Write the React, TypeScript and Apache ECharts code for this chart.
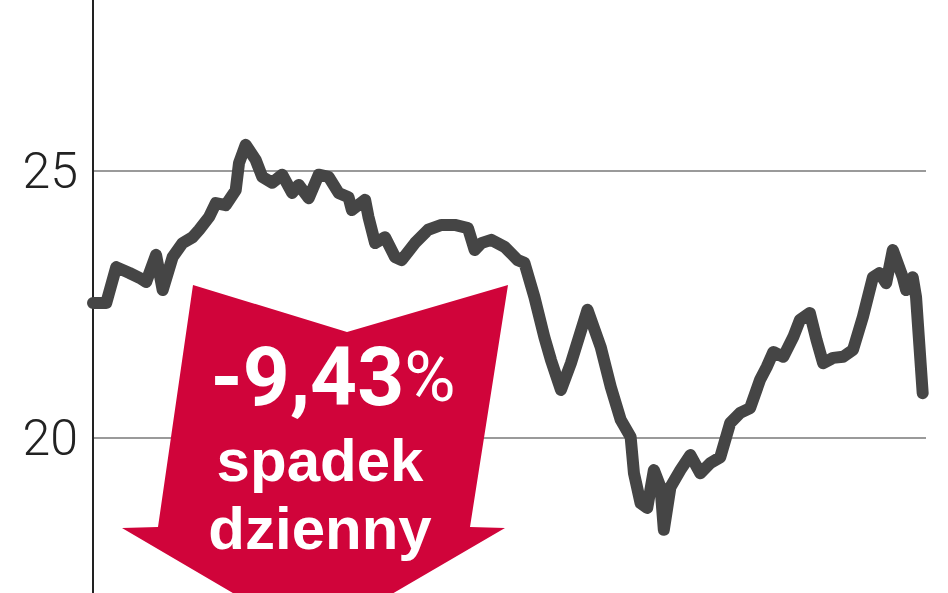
import React, { useEffect, useRef } from "react";
import * as echarts from "echarts";

// Trading-day index and closing price (PLN)
const days = [
  0, 4, 7, 11, 14, 16, 19, 21, 24, 27, 30, 32, 35, 37, 40, 43, 44, 46, 49, 51,
  54, 57, 60, 62, 65, 68, 71, 74, 77, 78, 82, 83, 85, 88, 91, 93, 97, 101, 105, 109,
  113, 115, 117, 120, 124, 128, 130, 133, 136, 138, 141, 144, 149, 153, 156, 159, 162, 163, 165, 167,
  169, 171, 172, 174, 177, 180, 183, 186, 189, 192, 195, 198, 201, 203, 205, 208, 211, 213, 216, 218,
  220, 223, 226, 229, 232, 235, 237, 239, 241, 244, 245, 247, 248, 250,
];
const prices = [
  22.53, 22.53, 23.2, 23.09, 23.0, 22.92, 23.43, 22.77, 23.39, 23.65, 23.76, 23.9, 24.14, 24.4, 24.36, 24.64, 25.15, 25.49, 25.21, 24.89,
  24.78, 24.93, 24.59, 24.74, 24.49, 24.93, 24.89, 24.59, 24.51, 24.27, 24.46, 24.14, 23.65, 23.76, 23.39, 23.33, 23.65, 23.9, 23.99, 23.99,
  23.93, 23.52, 23.65, 23.71, 23.58, 23.33, 23.28, 22.64, 21.89, 21.46, 20.9, 21.4, 22.4, 21.7, 20.96, 20.34, 20.02, 19.34, 18.78, 18.69,
  19.4, 19.08, 18.28, 19.08, 19.4, 19.68, 19.34, 19.53, 19.64, 20.28, 20.47, 20.56, 21.09, 21.33, 21.61, 21.52, 21.89, 22.21, 22.34, 21.84,
  21.4, 21.5, 21.52, 21.65, 22.27, 23.01, 23.09, 22.9, 23.52, 23.01, 22.77, 23.01, 22.64, 20.84,
];
const yTicks = [20, 25];
const badgeValue = "-9,43";
const badgeLines = ["spadek", "dzienny"];

const OFF = 96; // chart canvas is shifted up by this much inside the clipping frame

export default function App() {
  const ref = useRef<HTMLDivElement>(null);
  useEffect(() => {
    if (!ref.current) return;
    const chart = echarts.init(ref.current, null, { renderer: "svg" });
    const data = days.map((d, i) => [d, prices[i]]);
    const P = (x: number, y: number) => [x, y + OFF];
    chart.setOption({
      animation: false,
      backgroundColor: "#ffffff",
      grid: { left: 93, right: 22, top: 0, bottom: 0, containLabel: false },
      xAxis: {
        type: "value",
        min: 0,
        max: 251,
        show: false,
      },
      yAxis: {
        type: "value",
        min: 15,
        max: 30,
        interval: 5,
        axisLine: { show: true, lineStyle: { color: "#222", width: 2 } },
        axisTick: { show: false },
        axisLabel: {
          show: true,
          margin: 15,
          fontSize: 50,
          fontFamily: "Roboto",
          fontWeight: 300,
          color: "#222",
          formatter: (v: number) => (yTicks.includes(v) ? String(v) : ""),
        },
        splitLine: { show: true, lineStyle: { color: "#9a9a9a", width: 2 } },
      },
      series: [
        {
          type: "line",
          data,
          symbol: "none",
          lineStyle: { color: "#454545", width: 12, cap: "round", join: "round" },
          z: 3,
        },
      ],
      graphic: [
        {
          type: "polygon",
          z: 10,
          shape: {
            points: [
              P(193, 285), P(347, 332), P(508, 285), P(470, 527), P(505, 528),
              P(313, 640), P(122, 528), P(158, 527),
            ],
          },
          style: { fill: "#d0043a" },
        },
        {
          type: "text",
          z: 11,
          x: 333,
          y: 377 + OFF,
          style: {
            text: `{a|${badgeValue}}{b|%}`,
            align: "center",
            verticalAlign: "middle",
            rich: {
              a: { fontSize: 82, fontWeight: 700, fontFamily: "Roboto", fill: "#fff", lineHeight: 70 },
              b: { fontSize: 70, fontWeight: 400, fontFamily: "Roboto", fill: "#fff", lineHeight: 70 },
            },
          },
        },
        {
          type: "text",
          z: 11,
          x: 320,
          y: 494 + OFF,
          style: {
            text: badgeLines.join("\n"),
            align: "center",
            verticalAlign: "middle",
            fontSize: 60,
            lineHeight: 68,
            fontWeight: 700,
            fontFamily: "Liberation Sans",
            fill: "#fff",
          },
        },
      ],
    });
    return () => chart.dispose();
  }, []);
  return (
    <div
      style={{
        position: "absolute",
        left: 0,
        top: 0,
        width: 948,
        height: 593,
        overflow: "hidden",
        background: "#fff",
      }}
    >
      <div
        ref={ref}
        style={{ position: "absolute", left: 0, top: -OFF, width: 948, height: 593 + OFF + 112 }}
      />
    </div>
  );
}
